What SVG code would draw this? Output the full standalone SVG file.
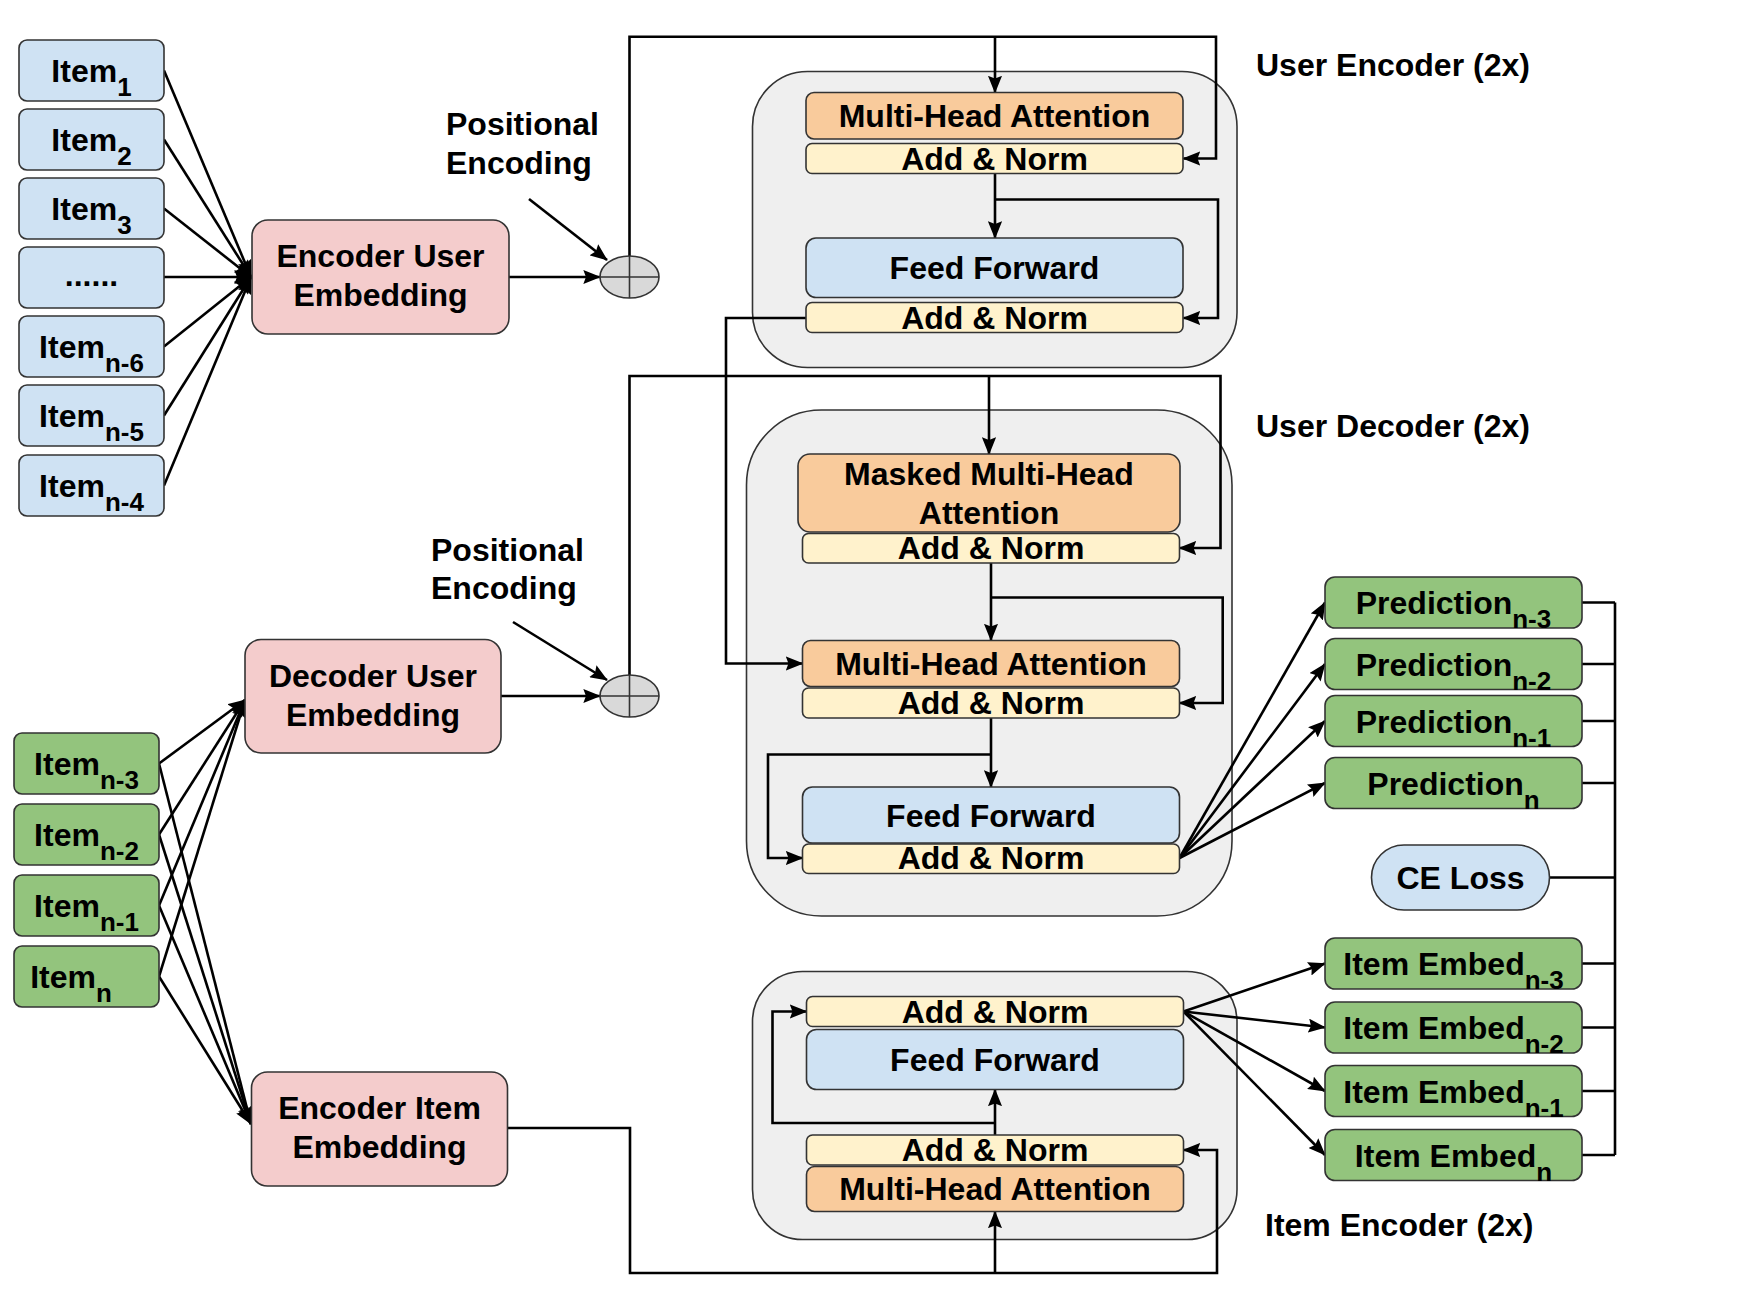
<svg xmlns="http://www.w3.org/2000/svg" width="1744" height="1308" viewBox="0 0 1744 1308">
<defs>
<style>
.t{font-family:"Liberation Sans",Arial,sans-serif;font-weight:bold;font-size:32px;fill:#000;text-anchor:middle}
.l{font-family:"Liberation Sans",Arial,sans-serif;font-weight:bold;font-size:32px;fill:#000}
.s{font-size:26px}
.bx{stroke:#333;stroke-width:1.6}
.blue{fill:#cfe2f3}.pink{fill:#f4cccc}.org{fill:#f9cb9c}.yel{fill:#fff2cc}.grn{fill:#93c47d}
.cont{fill:#efefef;stroke:#333;stroke-width:1.6}
.c{fill:none;stroke:#000;stroke-width:2.6}
.a{marker-end:url(#ah)}
</style>
<marker id="ah" viewBox="0 0 10 8" refX="9.5" refY="4" markerWidth="6.8" markerHeight="5.4" orient="auto" markerUnits="strokeWidth">
<path d="M0,0 L10,4 L0,8 L1.5,4 z" fill="#000"/>
</marker>
</defs>
<rect width="1744" height="1308" fill="#fff"/>

<!-- containers -->
<rect id="user-encoder" class="cont" x="752.5" y="71.5" width="484.5" height="296" rx="55"/>
<rect id="user-decoder" class="cont" x="746.5" y="410" width="485.5" height="506" rx="75"/>
<rect id="item-encoder" class="cont" x="752.5" y="971.5" width="484.5" height="268" rx="50"/>

<!-- connectors -->
<g id="connectors">
<path class="c a" d="M164,70.5 L251,277"/>
<path class="c a" d="M164,139.5 L251,277"/>
<path class="c a" d="M164,208.5 L251,277"/>
<path class="c a" d="M164,277 L251,277"/>
<path class="c a" d="M164,346.5 L251,277"/>
<path class="c a" d="M164,415.5 L251,277"/>
<path class="c a" d="M164,485.5 L251,277"/>
<path class="c a" d="M509,277 H600"/>
<path class="c a" d="M529,199 L607,260"/>
<path class="c a" d="M629.5,256 V36.7 H1216 V158.5 H1183.5"/>
<path class="c a" d="M995,36.7 V92.5"/>
<path class="c a" d="M995,173.5 V238"/>
<path class="c a" d="M995,199.5 H1218 V318 H1183.5"/>
<path class="c a" d="M806,318 H726 V663.5 H802.5"/>

<path class="c a" d="M159,763.5 L245,700"/>
<path class="c a" d="M159,834.5 L245,700"/>
<path class="c a" d="M159,905.5 L245,700"/>
<path class="c a" d="M159,976.5 L245,700"/>
<path class="c a" d="M159,763.5 L251,1124"/>
<path class="c a" d="M159,834.5 L251,1124"/>
<path class="c a" d="M159,905.5 L251,1124"/>
<path class="c a" d="M159,976.5 L251,1124"/>
<path class="c a" d="M501,696 H600"/>
<path class="c a" d="M513,622 L607,680"/>
<path class="c a" d="M629.5,675 V376 H1220.5 V548 H1179.5"/>
<path class="c a" d="M989,376 V454"/>
<path class="c a" d="M991,563 V640.5"/>
<path class="c a" d="M991,597.5 H1222.7 V703 H1179.5"/>
<path class="c a" d="M991,718 V787"/>
<path class="c a" d="M991,754.5 H768 V858 H802.5"/>
<path class="c a" d="M1179.5,858 L1325,602.5"/>
<path class="c a" d="M1179.5,858 L1325,664"/>
<path class="c a" d="M1179.5,858 L1325,721"/>
<path class="c a" d="M1179.5,858 L1325,783"/>

<path class="c a" d="M508,1128 H630 V1273 H1217 V1150 H1183.5"/>
<path class="c a" d="M995,1273 V1211.5"/>
<path class="c a" d="M995,1135 V1089.5"/>
<path class="c a" d="M995,1123 H772.5 V1011.5 H806.5"/>
<path class="c a" d="M1183.5,1011.5 L1325,963.5"/>
<path class="c a" d="M1183.5,1011.5 L1325,1027.5"/>
<path class="c a" d="M1183.5,1011.5 L1325,1091"/>
<path class="c a" d="M1183.5,1011.5 L1325,1155"/>

<path class="c" d="M1582,602.5 H1615 M1582,664 H1615 M1582,721 H1615 M1582,783 H1615 M1549.5,877.5 H1615 M1582,963.5 H1615 M1582,1027.5 H1615 M1582,1091 H1615 M1582,1155 H1615 M1615,602.5 V1155"/>
</g>

<!-- left input items -->
<g id="item-1"><rect class="bx blue" x="19" y="40" width="145" height="61" rx="8"/><text class="t" x="91.5" y="82"><tspan>Item</tspan><tspan class="s" dy="14">1</tspan></text></g>
<g id="item-2"><rect class="bx blue" x="19" y="109" width="145" height="61" rx="8"/><text class="t" x="91.5" y="151"><tspan>Item</tspan><tspan class="s" dy="14">2</tspan></text></g>
<g id="item-3"><rect class="bx blue" x="19" y="178" width="145" height="61" rx="8"/><text class="t" x="91.5" y="220"><tspan>Item</tspan><tspan class="s" dy="14">3</tspan></text></g>
<g id="item-dots"><rect class="bx blue" x="19" y="247" width="145" height="61" rx="8"/><text class="t" x="91.5" y="286">......</text></g>
<g id="item-n-6"><rect class="bx blue" x="19" y="316" width="145" height="61" rx="8"/><text class="t" x="91.5" y="358"><tspan>Item</tspan><tspan class="s" dy="14">n-6</tspan></text></g>
<g id="item-n-5"><rect class="bx blue" x="19" y="385" width="145" height="61" rx="8"/><text class="t" x="91.5" y="427"><tspan>Item</tspan><tspan class="s" dy="14">n-5</tspan></text></g>
<g id="item-n-4"><rect class="bx blue" x="19" y="455" width="145" height="61" rx="8"/><text class="t" x="91.5" y="497"><tspan>Item</tspan><tspan class="s" dy="14">n-4</tspan></text></g>

<g id="encoder-user-embedding"><rect class="bx pink" x="252" y="220" width="257" height="114" rx="16"/><text class="t" x="380.5" y="267">Encoder User</text><text class="t" x="380.5" y="306">Embedding</text></g>

<g id="pos-enc-1"><ellipse cx="629.5" cy="277" rx="29.5" ry="21" fill="#d9d9d9" stroke="#333" stroke-width="1.6"/><path d="M600,277 H659 M629.5,256 V298" stroke="#333" stroke-width="1.6"/></g>
<g id="pos-enc-label-1"><text class="l" x="446" y="135">Positional</text><text class="l" x="446" y="174">Encoding</text></g>

<!-- user encoder -->
<g id="ue-mha"><rect class="bx org" x="806" y="92.5" width="377" height="46.5" rx="8"/><text class="t" x="994.5" y="127">Multi-Head Attention</text></g>
<g id="ue-an1"><rect class="bx yel" x="806" y="143.5" width="377" height="30" rx="6"/><text class="t" x="994.5" y="169.5">Add &amp; Norm</text></g>
<g id="ue-ff"><rect class="bx blue" x="806" y="238" width="377" height="59.5" rx="10"/><text class="t" x="994.5" y="279">Feed Forward</text></g>
<g id="ue-an2"><rect class="bx yel" x="806" y="302.5" width="377" height="30" rx="6"/><text class="t" x="994.5" y="328.5">Add &amp; Norm</text></g>
<text id="ue-label" class="l" x="1256" y="76">User Encoder (2x)</text>

<!-- user decoder -->
<g id="pos-enc-2"><ellipse cx="629.5" cy="696" rx="29.5" ry="21" fill="#d9d9d9" stroke="#333" stroke-width="1.6"/><path d="M600,696 H659 M629.5,675 V717" stroke="#333" stroke-width="1.6"/></g>
<g id="pos-enc-label-2"><text class="l" x="431" y="561">Positional</text><text class="l" x="431" y="599">Encoding</text></g>
<g id="ud-mmha"><rect class="bx org" x="798" y="454" width="382" height="78" rx="12"/><text class="t" x="989" y="485">Masked Multi-Head</text><text class="t" x="989" y="523.5">Attention</text></g>
<g id="ud-an1"><rect class="bx yel" x="802.5" y="533.5" width="377" height="29.5" rx="6"/><text class="t" x="991" y="559">Add &amp; Norm</text></g>
<g id="ud-mha"><rect class="bx org" x="802.5" y="640.5" width="377" height="46" rx="8"/><text class="t" x="991" y="674.5">Multi-Head Attention</text></g>
<g id="ud-an2"><rect class="bx yel" x="802.5" y="688" width="377" height="30" rx="6"/><text class="t" x="991" y="714">Add &amp; Norm</text></g>
<g id="ud-ff"><rect class="bx blue" x="802.5" y="787" width="377" height="56" rx="10"/><text class="t" x="991" y="826.5">Feed Forward</text></g>
<g id="ud-an3"><rect class="bx yel" x="802.5" y="844" width="377" height="29.5" rx="6"/><text class="t" x="991" y="869">Add &amp; Norm</text></g>
<text id="ud-label" class="l" x="1256" y="436.5">User Decoder (2x)</text>

<!-- green inputs -->
<g id="gitem-n-3"><rect class="bx grn" x="14" y="733" width="145" height="61" rx="8"/><text class="t" x="86.5" y="775"><tspan>Item</tspan><tspan class="s" dy="14">n-3</tspan></text></g>
<g id="gitem-n-2"><rect class="bx grn" x="14" y="804" width="145" height="61" rx="8"/><text class="t" x="86.5" y="846"><tspan>Item</tspan><tspan class="s" dy="14">n-2</tspan></text></g>
<g id="gitem-n-1"><rect class="bx grn" x="14" y="875" width="145" height="61" rx="8"/><text class="t" x="86.5" y="917"><tspan>Item</tspan><tspan class="s" dy="14">n-1</tspan></text></g>
<g id="gitem-n"><rect class="bx grn" x="14" y="946" width="145" height="61" rx="8"/><text class="t" x="71" y="988"><tspan>Item</tspan><tspan class="s" dy="14">n</tspan></text></g>

<g id="decoder-user-embedding"><rect class="bx pink" x="245" y="639.5" width="256" height="113.5" rx="16"/><text class="t" x="373" y="686.5">Decoder User</text><text class="t" x="373" y="725.5">Embedding</text></g>
<g id="encoder-item-embedding"><rect class="bx pink" x="251.5" y="1072" width="256" height="114" rx="16"/><text class="t" x="379.5" y="1119">Encoder Item</text><text class="t" x="379.5" y="1158">Embedding</text></g>

<!-- item encoder -->
<g id="ie-an-top"><rect class="bx yel" x="806.5" y="996.5" width="377" height="30" rx="6"/><text class="t" x="995" y="1022.5">Add &amp; Norm</text></g>
<g id="ie-ff"><rect class="bx blue" x="806.5" y="1029.5" width="377" height="60" rx="10"/><text class="t" x="995" y="1070.5">Feed Forward</text></g>
<g id="ie-an-bot"><rect class="bx yel" x="806.5" y="1135" width="377" height="30" rx="6"/><text class="t" x="995" y="1161">Add &amp; Norm</text></g>
<g id="ie-mha"><rect class="bx org" x="806.5" y="1166.5" width="377" height="45" rx="8"/><text class="t" x="995" y="1200">Multi-Head Attention</text></g>
<text id="ie-label" class="l" x="1265" y="1236">Item Encoder (2x)</text>

<!-- outputs -->
<g id="pred-n-3"><rect class="bx grn" x="1325" y="577" width="257" height="51" rx="10"/><text class="t" x="1453.5" y="614"><tspan>Prediction</tspan><tspan class="s" dy="14">n-3</tspan></text></g>
<g id="pred-n-2"><rect class="bx grn" x="1325" y="638.5" width="257" height="51" rx="10"/><text class="t" x="1453.5" y="675.5"><tspan>Prediction</tspan><tspan class="s" dy="14">n-2</tspan></text></g>
<g id="pred-n-1"><rect class="bx grn" x="1325" y="695.5" width="257" height="51" rx="10"/><text class="t" x="1453.5" y="732.5"><tspan>Prediction</tspan><tspan class="s" dy="14">n-1</tspan></text></g>
<g id="pred-n"><rect class="bx grn" x="1325" y="757.5" width="257" height="51" rx="10"/><text class="t" x="1453.5" y="794.5"><tspan>Prediction</tspan><tspan class="s" dy="14">n</tspan></text></g>
<g id="ce-loss"><rect class="bx blue" x="1371.5" y="845" width="178" height="65" rx="32.5"/><text class="t" x="1460.5" y="888.5">CE Loss</text></g>
<g id="emb-n-3"><rect class="bx grn" x="1325" y="938" width="257" height="51" rx="10"/><text class="t" x="1453.5" y="975"><tspan>Item Embed</tspan><tspan class="s" dy="14">n-3</tspan></text></g>
<g id="emb-n-2"><rect class="bx grn" x="1325" y="1002" width="257" height="51" rx="10"/><text class="t" x="1453.5" y="1039"><tspan>Item Embed</tspan><tspan class="s" dy="14">n-2</tspan></text></g>
<g id="emb-n-1"><rect class="bx grn" x="1325" y="1065.5" width="257" height="51" rx="10"/><text class="t" x="1453.5" y="1102.5"><tspan>Item Embed</tspan><tspan class="s" dy="14">n-1</tspan></text></g>
<g id="emb-n"><rect class="bx grn" x="1325" y="1129.5" width="257" height="51" rx="10"/><text class="t" x="1453.5" y="1166.5"><tspan>Item Embed</tspan><tspan class="s" dy="14">n</tspan></text></g>
</svg>
